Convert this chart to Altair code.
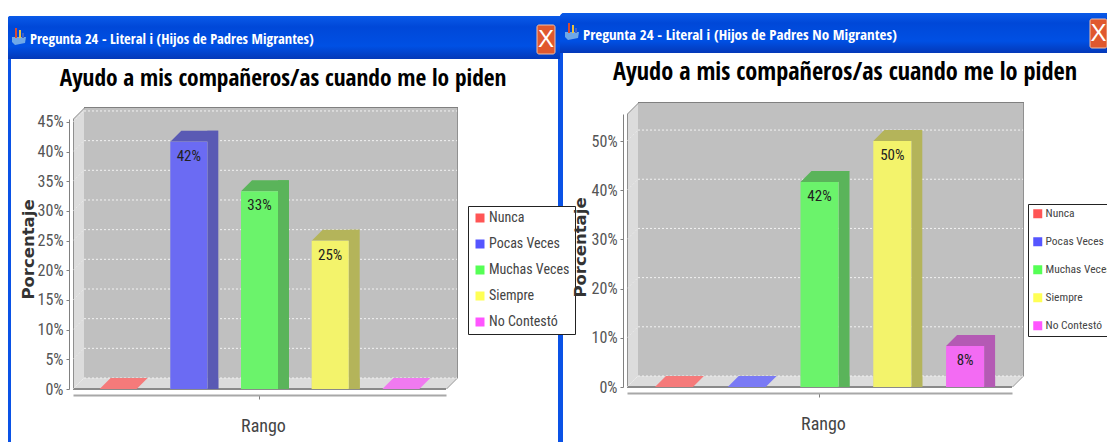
import altair as alt
import pandas as pd

categorias = ["Nunca", "Pocas Veces", "Muchas Veces", "Siempre", "No Contestó"]
valores_migrantes = [0, 41.67, 33.33, 25, 0]
valores_no_migrantes = [0, 0, 41.67, 50, 8.33]
marcas_migrantes = [0, 5, 10, 15, 20, 25, 30, 35, 40, 45]
marcas_no_migrantes = [0, 10, 20, 30, 40, 50]
saturados = ["#ff5555", "#5555ff", "#55ff55", "#ffff55", "#ff55ff"]
oscuros = ["#b45a5a", "#5a5ab4", "#5ab45a", "#b4b45a", "#b45ab4"]
piso = ["#f57a7a", "#7a7af5", "#7af57a", "#f5f57a", "#f07af0"]

NARROW = "Roboto Condensed"
BOLD = "Open Sans Condensed"
UNO = alt.Data(values=[{"a": 1}])


def caja(x0, y0, x1, y1, color, **kw):
    return alt.Chart(UNO).mark_rect(color=color, **kw).encode(
        x=alt.value(x0 - 8), x2=alt.value(x1 - 8),
        y=alt.value(y0 - 8), y2=alt.value(y1 - 8))


def poligono(puntos, color, stroke=None, sw=0):
    ruta = "M" + " L".join(f"{x - 8},{y - 8}" for x, y in puntos) + " Z"
    props = dict(shape=ruta, size=4, filled=True, fill=color, opacity=1, strokeWidth=sw)
    if stroke:
        props["stroke"] = stroke
    return alt.Chart(UNO).mark_point(**props).encode(x=alt.value(0), y=alt.value(0))


def texto(x, y, s, font=BOLD, size=16, color="#000000", bold=False, align="center"):
    return alt.Chart(UNO).mark_text(
        text=s, font=font, fontSize=size, color=color, align=align, baseline="middle",
        fontWeight="bold" if bold else "normal",
    ).encode(x=alt.value(x - 8), y=alt.value(y - 8))


def panel(valores, marcas, win, g):
    df = pd.DataFrame({
        "rango": categorias, "valor": valores, "base": [0] * 5,
        "color_sup": [piso[i] if valores[i] == 0 else oscuros[i] for i in range(5)],
        "color_lat": oscuros,
    })
    dm = pd.DataFrame({"marca": marcas})

    sx = alt.Scale(domain=categorias, range=[g["fx0"] - 8, g["fx1"] - 8],
                   paddingInner=g["pi"], paddingOuter=g["po"])
    sy = alt.Scale(domain=[0, g["top"]], range=[g["fy"] - 8, g["ty"] - 8], nice=False, zero=True)
    X = alt.X("rango:N", scale=sx, sort=categorias)
    Y = alt.Y("valor:Q", scale=sy)
    d = g["d"]
    hw = g["bw"] / 2

    capas = []
    # ventana
    capas.append(caja(win["x0"], win["y0"], win["x1"], 450, "#0a52e6", cornerRadiusTopLeft=4, cornerRadiusTopRight=4))
    capas.append(caja(win["x0"] + win["bl"], win["tb"], win["x1"] - win["br"], 450, "#ffffff"))
    capas.append(caja(win["x0"], win["y0"], win["x1"], win["tb"],
                      alt.LinearGradient(gradient="linear", stops=[
                          alt.GradientStop(color="#0a5ae8", offset=0),
                          alt.GradientStop(color="#0048d8", offset=0.25),
                          alt.GradientStop(color="#0050e4", offset=0.7),
                          alt.GradientStop(color="#0438b8", offset=1)],
                          x1=0, x2=0, y1=0, y2=1),
                      cornerRadiusTopLeft=4, cornerRadiusTopRight=4))
    ix, iy = win["ix"], win["iy"]
    capas.append(poligono([(ix, iy + 9), (ix + 14, iy + 9), (ix + 13, iy + 15), (ix + 3, iy + 17), (ix, iy + 14)], "#6ea8e8"))
    capas.append(caja(ix + 3, iy, ix + 5, iy + 10, "#d84a30"))
    capas.append(caja(ix + 7, iy + 2, ix + 9, iy + 10, "#e8c040"))
    capas.append(caja(ix + 10, iy + 5, ix + 12, iy + 10, "#4060c8"))
    capas.append(texto(win["tx"], win["ty"], win["titulo"], size=win["tsize"], color="#ffffff", bold=True, align="left"))
    capas.append(caja(win["bx0"], win["by0"], win["bx1"], win["by1"], "#e0582e", cornerRadius=2, stroke="#f0c0a8", strokeWidth=1))
    capas.append(texto((win["bx0"] + win["bx1"]) / 2, (win["by0"] + win["by1"]) / 2, "X", font="Liberation Sans", size=24, color="#ffffff"))

    # título del gráfico
    capas.append(texto(g["cx"], g["cy"], "Ayudo a mis compañeros/as cuando me lo piden", size=g["csize"], bold=True))

    # paredes y piso
    fx0, fx1, fy, ty = g["fx0"], g["fx1"], g["fy"], g["ty"]
    capas.append(poligono([(fx0, ty), (fx0 + d, ty - d), (fx0 + d, fy - d), (fx0, fy)], "#dcdcdc"))
    capas.append(poligono([(fx0 + d, ty - d), (fx1 + d, ty - d), (fx1 + d, fy - d), (fx0 + d, fy - d)], "#c0c0c0"))
    capas.append(poligono([(fx0, fy), (fx0 + d, fy - d), (fx1 + d, fy - d), (fx1, fy)], "#dcdcdc"))
    capas.append(caja(fx0 + d, ty - d - 1, fx1 + d + 1, ty - d, "#808080"))
    capas.append(caja(fx1 + d, ty - d, fx1 + d + 1, fy - d, "#909090"))
    capas.append(caja(fx0, ty, fx0 + 1, fy, "#909090"))
    capas.append(caja(fx0, fy - 1, fx1, fy + 1, "#8a8a8a"))
    capas.append(poligono([(fx1, fy), (fx1 + d, fy - d), (fx1 + d + 1, fy - d), (fx1 + 1, fy)], "#909090"))
    capas.append(poligono([(fx0, ty), (fx0 + d, ty - d), (fx0 + d + 1, ty - d), (fx0 + 1, ty)], "#909090"))

    # rejilla
    capas.append(alt.Chart(dm).mark_rule(color="#f2f2f2", strokeWidth=1, strokeDash=[2, 2], yOffset=-d).encode(
        x=alt.value(fx0 + d - 8), x2=alt.value(fx1 + d - 8),
        y=alt.Y("marca:Q", scale=sy)))
    capas.append(alt.Chart(dm).mark_point(
        shape=f"M0,0 L{d},{-d}", size=4, filled=False, stroke="#f2f2f2", strokeWidth=1, opacity=0.6, strokeDash=[2, 2]
    ).encode(x=alt.value(fx0 - 8), y=alt.Y("marca:Q", scale=sy)))

    pos = df[df["valor"] > 0]
    # caras lateral y superior
    capas.append(alt.Chart(pos).mark_bar(width=d, xOffset=hw + d / 2, yOffset=-d).encode(
        x=X, y=Y, y2="base:Q", color=alt.Color("color_lat:N", scale=None)))
    capas.append(alt.Chart(pos).mark_point(
        shape=f"M{hw},0 L{hw + d},{-d} L{hw + d},0 Z", size=4, filled=True, opacity=1, strokeWidth=0
    ).encode(x=X, y=alt.Y("base:Q", scale=sy), color=alt.Color("color_lat:N", scale=None)))
    capas.append(alt.Chart(df).mark_point(
        shape=f"M{-hw},0 L{-hw + d},{-d} L{hw + d},{-d} L{hw},0 Z", size=4, filled=True, opacity=1, strokeWidth=0
    ).encode(x=X, y=Y, color=alt.Color("color_sup:N", scale=None)))

    # cara frontal
    capas.append(alt.Chart(pos).mark_bar(width=g["bw"], color="#c0c0c0").encode(x=X, y=Y, y2="base:Q"))
    frente = alt.Chart(df).mark_bar(width=g["bw"], opacity=0.8).encode(
        x=alt.X("rango:N", scale=sx, sort=categorias, title="Rango", axis=alt.Axis(
            orient="bottom", values=[categorias[2]], labels=False, offset=g["xoff"],
            domainColor="#a8a8a8", domainWidth=2,
            tickColor="#808080", tickSize=4, grid=False, zindex=1,
            titleFont=NARROW, titleFontSize=18, titleFontWeight="normal", titleColor="#444444",
            titleX=g["rx"] - 8, titleY=g["ry"], titleAlign="center", titleBaseline="middle")),
        y=alt.Y("valor:Q", scale=sy, title="Porcentaje", axis=alt.Axis(
            orient="left", values=marcas, labelExpr="datum.value + '%'", offset=g["yoff"], grid=False, zindex=1,
            domainColor="#808080", tickColor="#808080", tickSize=3, labelPadding=3,
            labelFont=NARROW, labelFontSize=16, labelFontWeight="normal", labelColor="#555555",
            titleFont="DejaVu Sans", titleFontSize=16.5, titleFontWeight="bold", titleColor="#333333",
            titleX=g["ptx"], titleY=g["pty"] - 8, titleAlign="center", titleBaseline="middle")),
        y2="base:Q",
        color=alt.Color("rango:N", scale=alt.Scale(domain=categorias, range=saturados), legend=alt.Legend(
            title=None, orient="none", legendX=g["lx"] - 8, legendY=g["ly"] - 8,
            fillColor="#ffffff", strokeColor="#222222", padding=g["lp"],
            symbolType="square", symbolSize=81, symbolOpacity=1, symbolStrokeWidth=0,
            labelFont=NARROW, labelFontSize=g["lf"], labelFontWeight="normal", labelColor="#444444", labelOffset=2,
            labelLimit=120, rowPadding=g["lr"], columns=1)),
    )
    capas.append(frente)

    # etiquetas de valor
    capas.append(alt.Chart(pos).transform_calculate(rotulo="format(datum.valor, '.0f') + '%'").mark_text(
        font=NARROW, fontSize=15, color="#222222", baseline="middle", dy=14
    ).encode(x=X, y=Y, text="rotulo:N"))

    return alt.layer(*capas)


izq = panel(valores_migrantes, marcas_migrantes,
            dict(x0=7, y0=16, x1=563, tb=59, bl=4, br=5, ix=12, iy=28, tx=30, ty=40,
                 titulo="Pregunta 24 - Literal i (Hijos de Padres Migrantes)", tsize=14.5,
                 bx0=537, by0=25, bx1=555, by1=54),
            dict(fx0=73, fx1=446, fy=389, ty=119, top=45.5, d=11, bw=37, pi=0.476, po=0.376,
                 cx=283, cy=79, csize=23.4, xoff=-47, yoff=-61, rx=263, ry=31, ptx=-41, pty=249,
                 lx=468, ly=206, lp=5, lr=12, lf=14))
der = panel(valores_no_migrantes, marcas_no_migrantes,
            dict(x0=560, y0=13, x1=1130, tb=53, bl=3, br=0, ix=565, iy=23, tx=583, ty=35,
                 titulo="Pregunta 24 - Literal i (Hijos de Padres No Migrantes)", tsize=15,
                 bx0=1090, by0=19, bx1=1107, by1=48),
            dict(fx0=627, fx1=1012, fy=387, ty=114, top=55.5, d=11, bw=38, pi=0.485, po=0.387,
                 cx=845, cy=73, csize=24.3, xoff=-49, yoff=-615, rx=823, ry=31, ptx=-43, pty=247,
                 lx=1028, ly=204, lp=4, lr=15, lf=11.5))

chart = alt.layer(izq, der).resolve_scale(x="independent", y="independent", color="independent").properties(
    width=1099, height=434, padding=0, background="#ffffff",
    autosize=alt.AutoSizeParams(type="none"),
).configure_view(stroke=None)

chart.save("out.html", embed_options={"renderer": "svg", "actions": False})
